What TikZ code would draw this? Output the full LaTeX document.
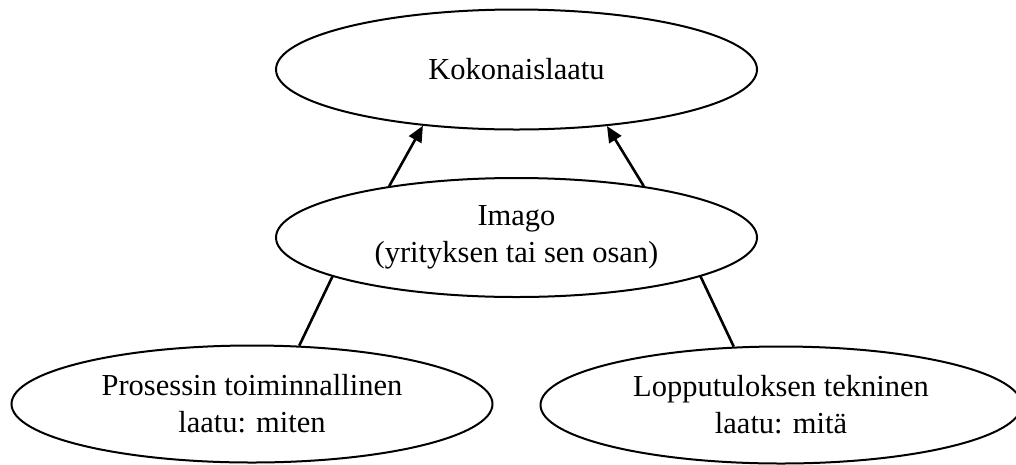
\documentclass[tikz,border=0pt]{standalone}
\usepackage{fontspec}
\setmainfont{Liberation Serif}
\usetikzlibrary{shapes.geometric,arrows.meta}
\begin{document}
\begin{tikzpicture}[x=1pt,y=-1pt,
  oval/.style={ellipse,draw,line width=2pt,minimum width=481pt,minimum height=120pt,
    inner sep=0pt,align=center,font=\fontsize{30.5}{37}\selectfont},
  link/.style={line width=2.6pt},
  arrowlink/.style={link,-{Triangle[length=16pt,width=14pt]}}]
\useasboundingbox (0,0) rectangle (1016,464);
% quality concepts
\node[oval] (total) at (516.5,69.5) {Kokonaislaatu};
\node[oval,minimum height=119pt] (image) at (516.5,237.5) {Imago\\(yrityksen tai sen osan)};
\node[oval,minimum height=117pt] (process) at (252,404) {Prosessin toiminnallinen\\laatu: miten};
\node[oval,minimum height=117pt] (result) at (781,405) {Lopputuloksen tekninen\\laatu: mitä};
% image feeds total quality
\draw[arrowlink] (image.158.5) -- (total.211);
\draw[arrowlink] (image.22.5) -- (total.-32);
% functional and technical quality shape the image
\draw[link] (process.51) -- (image.192.7);
\draw[link] (result.129) -- (image.-12.8);
\end{tikzpicture}
\end{document}
